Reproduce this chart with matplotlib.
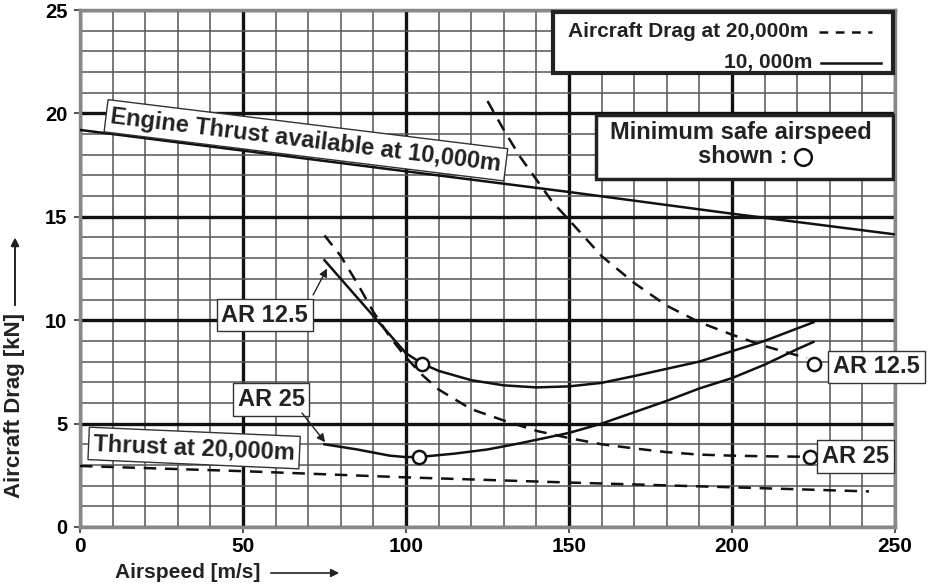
import matplotlib.pyplot as plt
from matplotlib.patches import Rectangle
from matplotlib.ticker import MultipleLocator

# engine thrust
thrust_10k_x = [0, 50, 100, 150, 200, 250]
thrust_10k_y = [19.2, 18.2, 17.2, 16.2, 15.15, 14.15]
thrust_20k_x = [0, 50, 100, 150, 200, 242]
thrust_20k_y = [2.95, 2.7, 2.4, 2.15, 1.92, 1.72]

# drag at 10,000m (solid)
ar125_10k_x = [75, 80, 85, 90, 95, 100, 105, 110, 120, 130, 140, 150, 160, 170, 180, 190, 200, 210, 220, 225]
ar125_10k_y = [12.9, 12.0, 11.1, 10.2, 9.3, 8.4, 7.9, 7.55, 7.1, 6.85, 6.75, 6.8, 6.97, 7.3, 7.65, 8.0, 8.5, 9.0, 9.6, 9.9]
ar25_10k_x = [75, 85, 95, 100, 105, 115, 125, 135, 150, 160, 170, 180, 190, 200, 210, 220, 225]
ar25_10k_y = [4.0, 3.75, 3.45, 3.38, 3.4, 3.55, 3.75, 4.05, 4.55, 5.0, 5.55, 6.1, 6.7, 7.2, 7.85, 8.6, 8.95]

# drag at 20,000m (dashed)
ar125_20k_x = [125, 130, 135, 140, 145, 150, 160, 170, 180, 190, 200, 210, 220, 223]
ar125_20k_y = [20.6, 19.2, 17.9, 16.8, 15.7, 14.85, 13.1, 11.8, 10.7, 9.9, 9.3, 8.75, 8.3, 8.18]
ar25_20k_x = [75, 80, 85, 90, 95, 100, 105, 110, 120, 130, 140, 150, 160, 170, 180, 190, 200, 210, 221]
ar25_20k_y = [14.1, 13.1, 11.8, 10.4, 9.2, 8.2, 7.35, 6.65, 5.7, 5.15, 4.65, 4.3, 4.0, 3.8, 3.62, 3.5, 3.45, 3.42, 3.4]

# minimum safe airspeed markers
safe_x = [105, 104, 225, 224]
safe_y = [7.9, 3.4, 7.9, 3.4]

x_ticks = [0, 50, 100, 150, 200, 250]
y_ticks = [0, 5, 10, 15, 20, 25]

BOLD = ["Liberation Sans", "DejaVu Sans"]

fig = plt.figure(figsize=(9.31, 5.88), dpi=100)
ax = fig.add_axes([80 / 931, 61 / 588, 815 / 931, 517 / 588])
ax.set_xlim(0, 250)
ax.set_ylim(0, 25)

ax.xaxis.set_major_locator(MultipleLocator(50))
ax.xaxis.set_minor_locator(MultipleLocator(10))
ax.yaxis.set_major_locator(MultipleLocator(5))
ax.yaxis.set_minor_locator(MultipleLocator(1))
ax.grid(which="minor", color="#555555", lw=1.1, zorder=0)
ax.grid(which="major", color="#111111", lw=2.4, zorder=0)
ax.set_axisbelow(True)
ax.tick_params(which="minor", length=0)
ax.tick_params(which="major", length=4, width=1.2, color="#333333")
ax.tick_params(axis="y", pad=5)
ax.tick_params(axis="x", pad=3)
for s in ax.spines.values():
    s.set_color("#888888")
    s.set_linewidth(2.5)

ax.set_xticks(x_ticks)
ax.set_yticks(y_ticks)
ax.set_xticklabels([str(v) for v in x_ticks], family=BOLD, fontweight="bold", fontsize=15)
ax.set_yticklabels([str(v) for v in y_ticks], family=BOLD, fontweight="bold", fontsize=14.5)

lw = 1.8
dash = (0, (5, 3.5))
ax.plot(thrust_10k_x, thrust_10k_y, color="#111111", lw=lw, zorder=3)
ax.plot(thrust_20k_x, thrust_20k_y, color="#111111", lw=lw, ls=dash, zorder=3)
ax.plot(ar125_10k_x, ar125_10k_y, color="#111111", lw=lw, zorder=3)
ax.plot(ar25_10k_x, ar25_10k_y, color="#111111", lw=lw, zorder=3)
ax.plot(ar125_20k_x, ar125_20k_y, color="#111111", lw=lw, ls=dash, zorder=3)
ax.plot(ar25_20k_x, ar25_20k_y, color="#111111", lw=lw, ls=dash, zorder=3)
ax.plot(safe_x, safe_y, ls="none", marker="o", ms=9.5, mfc="white", mec="#111111", mew=1.8, zorder=5)

thin_box = dict(boxstyle="square,pad=0.2", fc="white", ec="#333333", lw=1)
txt = dict(family=BOLD, fontweight="bold", color="#222222", zorder=6)

ax.text(69.3, 18.7, "Engine Thrust available at 10,000m", fontsize=17, rotation=-7,
        rotation_mode="anchor", ha="center", va="center", bbox=thin_box, **txt)
ax.text(35, 3.82, "Thrust at 20,000m", fontsize=17, rotation=-2.5,
        rotation_mode="anchor", ha="center", va="center", bbox=thin_box, **txt)

# curve labels on the left, arrows start at the box corner
arrow = dict(arrowstyle="-|>", color="#222222", lw=1, mutation_scale=12, shrinkA=0, shrinkB=0)
ax.text(56.7, 10.25, "AR 12.5", fontsize=17, ha="center", va="center", bbox=thin_box, **txt)
ax.annotate("", xy=(75.8, 12.5), xytext=(71.5, 11.22), arrowprops=arrow, zorder=6)
ax.text(58.6, 6.17, "AR 25", fontsize=17, ha="center", va="center", bbox=thin_box, **txt)
ax.annotate("", xy=(75.2, 4.1), xytext=(68.1, 5.51), arrowprops=arrow, zorder=6)

ax.text(231, 7.75, "AR 12.5", fontsize=17, ha="left", va="center", bbox=thin_box, clip_on=False, **txt)
ax.text(227.6, 3.4, "AR 25", fontsize=17, ha="left", va="center", bbox=thin_box, clip_on=False, **txt)

# minimum safe airspeed box
ax.add_patch(Rectangle((158.3, 16.83), 91.1, 3.09, fc="white", ec="#222222", lw=2.5, zorder=6))
ax.text(202.6, 19.1, "Minimum safe airspeed", fontsize=17, ha="center", va="center", **txt)
ax.text(216.9, 17.9, "shown :", fontsize=17, ha="right", va="center", **txt)
ax.plot([221.8], [17.9], marker="o", ms=12, mfc="white", mec="#111111", mew=1.8, zorder=7)

# line-style legend box
ax.add_patch(Rectangle((145.1, 21.95), 104.3, 2.95, fc="white", ec="#222222", lw=3,
                       zorder=6, clip_on=False))
ax.text(223.3, 23.94, "Aircraft Drag at 20,000m", fontsize=15, ha="right", va="center", **txt)
ax.plot([226.7, 242.9], [23.94, 23.94], color="#111111", lw=lw, ls=(0, (3.5, 3)), zorder=7)
ax.text(224.8, 22.44, "10, 000m", fontsize=15, ha="right", va="center", **txt)
ax.plot([227.3, 245.7], [22.44, 22.44], color="#111111", lw=lw, zorder=7)

# axis labels with arrows
fig.text(15 / 931, 1 - 405 / 588, "Aircraft Drag [kN]", rotation=90, ha="center", va="center",
         fontsize=16, family=BOLD, fontweight="bold", color="#222222")
fig.add_artist(plt.annotate("", xy=(15 / 931, 1 - 235 / 588), xytext=(15 / 931, 1 - 308 / 588),
                            xycoords="figure fraction", textcoords="figure fraction",
                            arrowprops=dict(arrowstyle="-|>", color="#222222", lw=1.2, mutation_scale=12)))
fig.text(188 / 931, 1 - 573 / 588, "Airspeed [m/s]", ha="center", va="center",
         fontsize=15, family=BOLD, fontweight="bold", color="#222222")
ax.annotate("", xy=(342 / 931, 1 - 573 / 588), xytext=(268 / 931, 1 - 573 / 588),
            xycoords="figure fraction", textcoords="figure fraction",
            arrowprops=dict(arrowstyle="-|>", color="#222222", lw=1.2, mutation_scale=12))

fig.savefig("out.png", dpi=100)
